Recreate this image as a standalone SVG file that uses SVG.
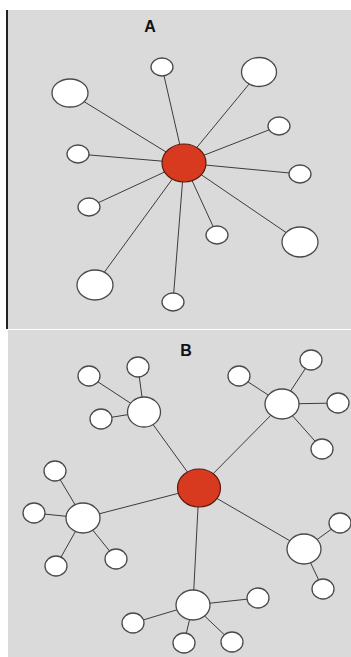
<svg xmlns="http://www.w3.org/2000/svg" width="351" height="657" viewBox="0 0 351 657">
<style>
.bg{fill:#dadada}
.n{fill:#ffffff;stroke:#4a4a4a;stroke-width:1.3}
.c{fill:#d83a20;stroke:#5a1a10;stroke-width:1.2}
.e line{stroke:#3c3c3c;stroke-width:1}
.lbl{font-family:"Liberation Sans",Arial,sans-serif;font-weight:bold;font-size:16px;fill:#111;text-anchor:middle}
</style>
<rect x="0" y="0" width="351" height="657" fill="#ffffff"/>
<rect class="bg" x="7" y="10" width="344" height="319" fill="#dcdcdc"/>
<rect x="6" y="10" width="2" height="319" fill="#222"/>
<rect class="bg" x="8" y="330" width="343" height="327"/>
<text class="lbl" x="150" y="32">A</text>
<text class="lbl" x="186" y="356">B</text>
<g id="edgesA" class="e">
<line x1="184" y1="163" x2="162" y2="67"/>
<line x1="184" y1="163" x2="259" y2="72"/>
<line x1="184" y1="163" x2="70" y2="93"/>
<line x1="184" y1="163" x2="279" y2="126"/>
<line x1="184" y1="163" x2="78" y2="154"/>
<line x1="184" y1="163" x2="300" y2="174"/>
<line x1="184" y1="163" x2="89" y2="207"/>
<line x1="184" y1="163" x2="217" y2="235"/>
<line x1="184" y1="163" x2="300" y2="242"/>
<line x1="184" y1="163" x2="95" y2="285"/>
<line x1="184" y1="163" x2="173" y2="302"/>
</g>
<g id="edgesB" class="e">
<line x1="199" y1="488" x2="144" y2="412"/>
<line x1="199" y1="488" x2="282" y2="404"/>
<line x1="199" y1="488" x2="83" y2="518"/>
<line x1="199" y1="488" x2="304" y2="549"/>
<line x1="199" y1="488" x2="193" y2="605"/>
<line x1="144" y1="412" x2="89" y2="376"/>
<line x1="144" y1="412" x2="138" y2="367"/>
<line x1="144" y1="412" x2="101" y2="419"/>
<line x1="282" y1="404" x2="239" y2="376"/>
<line x1="282" y1="404" x2="311" y2="360"/>
<line x1="282" y1="404" x2="338" y2="403"/>
<line x1="282" y1="404" x2="322" y2="449"/>
<line x1="83" y1="518" x2="55" y2="471"/>
<line x1="83" y1="518" x2="34" y2="513"/>
<line x1="83" y1="518" x2="116" y2="559"/>
<line x1="83" y1="518" x2="56" y2="566"/>
<line x1="304" y1="549" x2="340" y2="523"/>
<line x1="304" y1="549" x2="323" y2="589"/>
<line x1="193" y1="605" x2="258" y2="598"/>
<line x1="193" y1="605" x2="133" y2="623"/>
<line x1="193" y1="605" x2="184" y2="643"/>
<line x1="193" y1="605" x2="232" y2="642"/>
</g>
<g id="a-center"><ellipse class="c" cx="184" cy="163" rx="22" ry="19"/></g>
<g id="a1"><ellipse class="n" cx="162" cy="67" rx="11" ry="9"/></g>
<g id="a2"><ellipse class="n" cx="259" cy="72" rx="17.5" ry="14.5"/></g>
<g id="a3"><ellipse class="n" cx="70" cy="93" rx="18" ry="14"/></g>
<g id="a4"><ellipse class="n" cx="279" cy="126" rx="11" ry="9"/></g>
<g id="a5"><ellipse class="n" cx="78" cy="154" rx="11" ry="9"/></g>
<g id="a6"><ellipse class="n" cx="300" cy="174" rx="11" ry="9"/></g>
<g id="a7"><ellipse class="n" cx="89" cy="207" rx="11" ry="9"/></g>
<g id="a8"><ellipse class="n" cx="217" cy="235" rx="11" ry="9"/></g>
<g id="a9"><ellipse class="n" cx="300" cy="242" rx="18" ry="15"/></g>
<g id="a10"><ellipse class="n" cx="95" cy="285" rx="18" ry="15"/></g>
<g id="a11"><ellipse class="n" cx="173" cy="302" rx="11" ry="9"/></g>
<g id="b-center"><ellipse class="c" cx="199" cy="488" rx="21.5" ry="19"/></g>
<g id="b-hub-nw"><ellipse class="n" cx="144" cy="412" rx="16.5" ry="15"/></g>
<g id="b-hub-ne"><ellipse class="n" cx="282" cy="404" rx="17" ry="15"/></g>
<g id="b-hub-w"><ellipse class="n" cx="83" cy="518" rx="17" ry="15"/></g>
<g id="b-hub-e"><ellipse class="n" cx="304" cy="549" rx="17" ry="15"/></g>
<g id="b-hub-s"><ellipse class="n" cx="193" cy="605" rx="17" ry="15"/></g>
<g id="b-nw1"><ellipse class="n" cx="89" cy="376" rx="11" ry="10"/></g>
<g id="b-nw2"><ellipse class="n" cx="138" cy="367" rx="11" ry="10"/></g>
<g id="b-nw3"><ellipse class="n" cx="101" cy="419" rx="11" ry="10"/></g>
<g id="b-ne1"><ellipse class="n" cx="239" cy="376" rx="11" ry="10"/></g>
<g id="b-ne2"><ellipse class="n" cx="311" cy="360" rx="11" ry="10"/></g>
<g id="b-ne3"><ellipse class="n" cx="338" cy="403" rx="11" ry="10"/></g>
<g id="b-ne4"><ellipse class="n" cx="322" cy="449" rx="11" ry="10"/></g>
<g id="b-w1"><ellipse class="n" cx="55" cy="471" rx="11" ry="10"/></g>
<g id="b-w2"><ellipse class="n" cx="34" cy="513" rx="11" ry="10"/></g>
<g id="b-w3"><ellipse class="n" cx="116" cy="559" rx="11" ry="10"/></g>
<g id="b-w4"><ellipse class="n" cx="56" cy="566" rx="11" ry="10"/></g>
<g id="b-e1"><ellipse class="n" cx="340" cy="523" rx="11" ry="10"/></g>
<g id="b-e2"><ellipse class="n" cx="323" cy="589" rx="11" ry="10"/></g>
<g id="b-s1"><ellipse class="n" cx="258" cy="598" rx="11" ry="10"/></g>
<g id="b-s2"><ellipse class="n" cx="133" cy="623" rx="11" ry="10"/></g>
<g id="b-s3"><ellipse class="n" cx="184" cy="643" rx="11" ry="10"/></g>
<g id="b-s4"><ellipse class="n" cx="232" cy="642" rx="11" ry="10"/></g>
</svg>
